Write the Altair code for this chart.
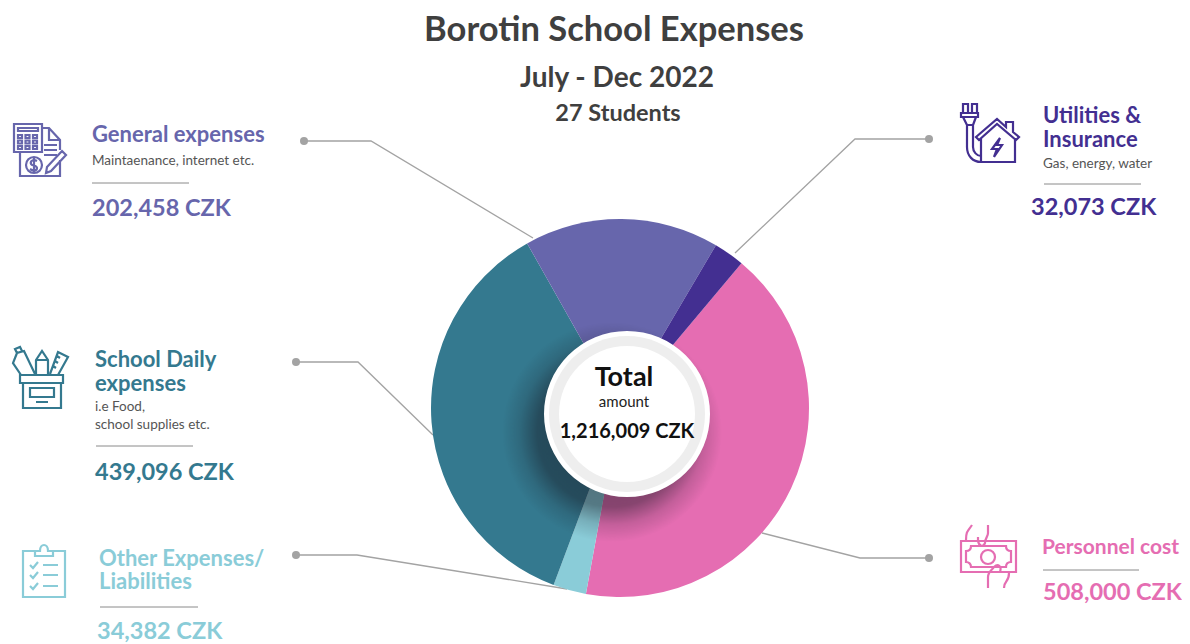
import math
import re
import altair as alt
import pandas as pd

# ---- chart values
categories = ["Personnel cost", "Other Expenses/ Liabilities", "School Daily expenses", "General expenses", "Utilities & Insurance"]
amounts = [508000, 34382, 439096, 202458, 32073]
colors = ["#e56db2", "#8accd8", "#34798f", "#6766ac", "#432f91"]
TOTAL = 1216009

FONT = "Lato"
W, H = 1174, 636
xs = alt.Scale(domain=[8, 8 + W], range=[0, W])
ys = alt.Scale(domain=[8, 8 + H], range=[0, H])

def X(f): return alt.X(f, type="quantitative", scale=xs, axis=None)
def Y(f): return alt.Y(f, type="quantitative", scale=ys, axis=None)
def XD(v): return alt.X(datum=v, scale=xs, axis=None)
def YD(v): return alt.Y(datum=v, scale=ys, axis=None)

fmt = lambda v: f"{v:,} CZK"
PINK, LIGHT, TEAL, GEN, UTIL = colors
GREY = "#555555"

# ---- pie
pie_df = pd.DataFrame({"cat": categories, "v": amounts, "c": colors, "o": range(5)})
start = math.radians(40)
pie = alt.Chart(pie_df).mark_arc(outerRadius=189, innerRadius=0).encode(
    theta=alt.Theta("v:Q", stack=True, scale=alt.Scale(domain=[0, TOTAL], range=[start, start + 2 * math.pi])),
    order=alt.Order("o:Q"),
    color=alt.Color("c:N", scale=None),
    x=XD(620), y=YD(408),
)

# ---- centre
def disc(cx, cy, r, fill):
    return alt.Chart(pd.DataFrame({"a": [0]})).mark_point(
        shape="circle", filled=True, fill=fill, size=(2 * r) ** 2, opacity=1, strokeWidth=0
    ).encode(x=XD(cx), y=YD(cy))

shadow = alt.RadialGradient(
    gradient="radial",
    stops=[
        alt.GradientStop(offset=0.0, color="rgba(20,20,30,0.55)"),
        alt.GradientStop(offset=0.68, color="rgba(20,20,30,0.45)"),
        alt.GradientStop(offset=0.84, color="rgba(20,20,30,0.16)"),
        alt.GradientStop(offset=1.0, color="rgba(20,20,30,0)"),
    ],
)
centre = [disc(612, 432, 110, shadow), disc(627, 414, 83, "#ffffff"), disc(627, 414, 78, "#eeeeee"), disc(627, 414, 68, "#ffffff")]

# ---- leaders
leaders = [
    [(304, 141), (371, 141), (533, 238)],
    [(929, 139), (855, 139), (735, 253)],
    [(296, 362), (358, 362), (433, 435)],
    [(296, 555), (357, 555), (567, 589)],
    [(929, 558), (860, 558), (762, 533)],
]
lrows = [{"id": i, "k": k, "x": p[0], "y": p[1]} for i, l in enumerate(leaders) for k, p in enumerate(l)]
lines = alt.Chart(pd.DataFrame(lrows)).mark_line(color="#a3a3a3", strokeWidth=1.3).encode(
    x=X("x"), y=Y("y"), detail="id:N", order="k:Q"
)
dots = alt.Chart(pd.DataFrame([{"x": l[0][0], "y": l[0][1]} for l in leaders])).mark_point(
    shape="circle", filled=True, color="#a3a3a3", size=64, opacity=1
).encode(x=X("x"), y=Y("y"))

# ---- separators
seps = pd.DataFrame({
    "x": [92, 1044, 96, 100, 1043], "x2": [189, 1141, 193, 198, 1139], "y": [183, 184, 446, 607, 570],
})
sep = alt.Chart(seps).mark_rule(color="#8a8a8a", strokeWidth=1).encode(
    x=X("x"), x2="x2:Q", y=Y("y")
)

# ---- text
tbold = [
    ("Borotin School Expenses", 614, 31, 34.5, "#3f3f3f", "center"),
    ("July - Dec 2022", 617, 79, 28, "#3f3f3f", "center"),
    ("27 Students", 618, 114, 23.5, "#3f3f3f", "center"),
    ("General expenses", 92, 135, 22, GEN, "left"),
    (fmt(amounts[3]), 92, 209, 23.5, GEN, "left"),
    ("Utilities &", 1043, 116, 22, UTIL, "left"),
    ("Insurance", 1043, 140, 22, UTIL, "left"),
    (fmt(amounts[4]), 1031, 208, 23.5, UTIL, "left"),
    ("School Daily", 95, 360, 22, TEAL, "left"),
    ("expenses", 95, 384, 22, TEAL, "left"),
    (fmt(amounts[2]), 95, 473, 23.5, TEAL, "left"),
    ("Other Expenses/", 99, 558.5, 22, LIGHT, "left"),
    ("Liabilities", 99, 581.5, 22, LIGHT, "left"),
    (fmt(amounts[1]), 97, 632, 23.5, LIGHT, "left"),
    ("Personnel cost", 1042, 548, 21, PINK, "left"),
    (fmt(amounts[0]), 1043, 593, 23.5, PINK, "left"),
    ("Total", 624, 378, 27, "#111111", "center"),
    (fmt(TOTAL), 627, 432, 20, "#111111", "center"),
]
treg = [
    ("Maintaenance, internet etc.", 92, 161, 13.5, GREY, "left"),
    ("Gas, energy, water", 1043, 164, 13.5, GREY, "left"),
    ("i.e Food,", 95, 407, 13.5, GREY, "left"),
    ("school supplies etc.", 95, 425, 13.5, GREY, "left"),
    ("amount", 624, 402, 15, "#222222", "center"),
]
def text_layers(rows, weight):
    out = []
    df = pd.DataFrame(rows, columns=["t", "x", "y", "s", "c", "a"])
    for a, g in df.groupby("a"):
        out.append(alt.Chart(g).mark_text(font=FONT, fontWeight=weight, align=a, baseline="middle").encode(
            x=X("x"), y=Y("y"), text="t:N", size=alt.Size("s:Q", scale=None), color=alt.Color("c:N", scale=None)
        ))
    return out

# ---- icons (outline glyphs)
def icon(path, cx, cy, half, color):
    idx = [0]
    def rep(m):
        v = float(m.group(0))
        c = cx if idx[0] % 2 == 0 else cy
        idx[0] += 1
        return f"{(v - c) / half:.4f}"
    shape = re.sub(r"-?\d+(?:\.\d+)?", rep, path)
    return alt.Chart(pd.DataFrame({"a": [0]})).mark_point(
        shape=shape, filled=False, stroke=color, strokeWidth=2.2, size=(2 * half) ** 2, opacity=1
    ).encode(x=XD(cx), y=YD(cy))

def rect(x0, y0, x1, y1):
    return f"M{x0} {y0} L{x1} {y0} L{x1} {y1} L{x0} {y1} Z "
def circ(cx, cy, r):
    k = 0.5523 * r
    return (f"M{cx+r} {cy} C{cx+r} {cy+k} {cx+k} {cy+r} {cx} {cy+r} C{cx-k} {cy+r} {cx-r} {cy+k} {cx-r} {cy} "
            f"C{cx-r} {cy-k} {cx-k} {cy-r} {cx} {cy-r} C{cx+k} {cy-r} {cx+r} {cy-k} {cx+r} {cy} Z ")

p_gen = (rect(14, 124, 42, 152) + rect(18, 128, 38, 131)
         + "".join(rect(x, y, x + 4, y + 3) for x in (18, 25.5, 33) for y in (135, 140.5, 146))
         + "M42 128 L49 128 L60 140 L60 150 M60 160 L60 176 L20 176 L20 152 M49 128 L49 140 L60 140 "
         + "M44 145 L57 145 M44 150 L57 150 M44 155 L57 155 "
         + circ(34, 165, 8)
         + "M37 161 C33 159 30 161 31 164 C32 166 37 165 37 168 C37 171 33 171 30 169 M34 158 L34 172 "
         + "M62 151 L66 155 L51 171 L46 173 L47 167 Z")
p_util = (rect(963, 104, 968, 113) + rect(972, 104, 977, 113) + rect(961, 113, 978, 117)
          + "M963 117 L967 125 L967 147 C967 156 973 162 981 162 M976 117 L973 125 L973 147 C973 152 977 156 981 156 M967 125 L973 125 "
          + "M976 137 L997 119 L1006 127 L1006 122 L1013 122 L1013 132 L1019 137 L1016 140 L997 124 L979 140 Z "
          + "M981 138 L981 162 L1015 162 L1015 138 "
          + "M1000 138 L992 149 L997 149 L994 157 L1002 145 L997 145 Z")
p_school = (rect(20, 375, 63, 383) + "M23 383 L23 408 L61 408 L61 383 " + rect(30, 388, 54, 397) + "M36 402 L48 402 "
            + "M21 375 L13 363 L17 353 L24 351 L35 374 M17 353 L15 349 L20 347 L22 351 "
            + "M36 375 L36 360 L42 351 L48 360 L48 375 M36 360 L48 360 "
            + "M50 374 L58 352 L68 357 L58 375 M53 366 L56 368 M55 361 L58 363 M57 356 L60 358")
p_other = ("M35 551 L23 551 L23 597 L65 597 L65 551 L53 551 M35 551 L35 556 L53 556 L53 551 L48 551 C48 543 40 543 40 551 L35 551 "
           + "".join(f"M30 {y} L33 {y+3} L38 {y-3} M43 {y} L58 {y} " for y in (565, 575, 586)))
p_money = (rect(961, 541, 1016, 572)
           + "M971 546 L1006 546 C1006 549 1008 551 1011 551 L1011 562 C1008 562 1006 564 1006 567 L971 567 C971 564 969 562 966 562 L966 551 C969 551 971 549 971 546 Z "
           + circ(988, 557, 7)
           + "M972 525 C968 531 966 531 966 540 M988 525 L988 533 C988 537 985 538 985 543 C983 548 979 546 978 541 L978 537 "
           + "M988 588 L988 577 C988 572 992 570 994 567 C998 563 1002 566 1000 572 M1004 588 C1004 580 1009 583 1009 573")
icons = [
    icon(p_gen, 40, 150, 30, GEN),
    icon(p_util, 990, 133, 32, UTIL),
    icon(p_school, 40, 378, 32, TEAL),
    icon(p_other, 44, 570, 30, LIGHT),
    icon(p_money, 988, 557, 34, PINK),
]

chart = alt.layer(
    lines, dots, pie, *centre, sep, *icons, *text_layers(tbold, 700), *text_layers(treg, 400)
).properties(width=W, height=H, padding=0, autosize=alt.AutoSizeParams(type="none")).configure_view(stroke=None)

chart.save("out.html", embed_options={"renderer": "svg", "actions": False})
